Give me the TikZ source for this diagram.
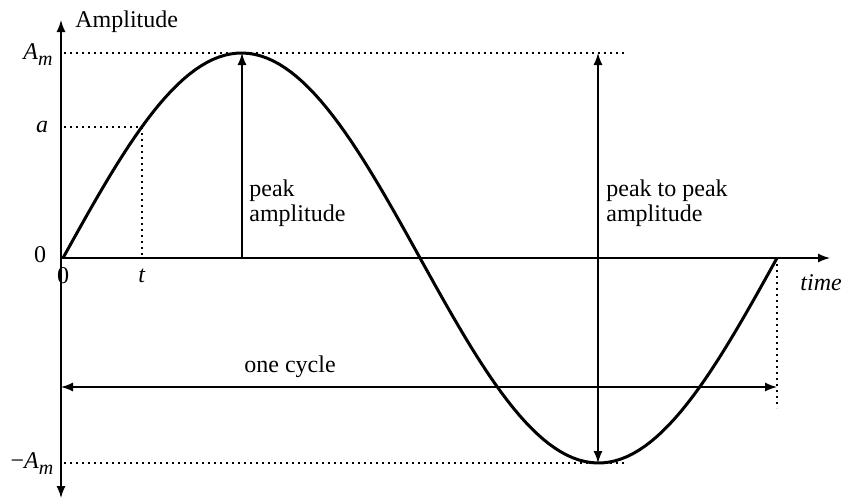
\documentclass[tikz,border=0pt]{standalone}
\usepackage{fontspec}
\setmainfont{Liberation Serif}
\usetikzlibrary{arrows.meta}
\newcommand{\ampsym}{\textit{A}\raisebox{-3pt}{\fontsize{10}{10}\selectfont\textit{m}}}
\begin{document}
\begin{tikzpicture}[x=0.5pt, y=0.5pt, >={Latex[length=6pt,width=4.5pt]},
                    every node/.style={inner sep=0pt, font=\fontsize{12}{12.5}\selectfont},
                    guide/.style={dash pattern=on 0.9pt off 2.1pt, line width=0.7pt},
                    axis/.style={line width=0.7pt},
                    wave/.style={line width=1.5pt}]
    \useasboundingbox (0,-241) rectangle (844,258);
    % axes and points of the wave
    \coordinate (O) at (61,0);
    \coordinate (ytop) at (61,238);
    \coordinate (ybot) at (61,-240);
    \coordinate (xend) at (830,0);
    \coordinate (S) at (63,0);
    \coordinate (P) at (242,205);
    \coordinate (Q) at (598,-205);
    \coordinate (E) at (777,0);
    \coordinate (ta) at (142,131);
    \coordinate (t0) at (142,0);
    \coordinate (ya) at (64,131);
    \coordinate (ypk) at (64,205);
    \coordinate (ymn) at (64,-205);
    \coordinate (pkend) at (627,205);
    \coordinate (mnend) at (627,-205);
    \coordinate (Ppk) at (598,205);
    \coordinate (P0) at (242,0);
    \coordinate (cycL) at (61,-129);
    \coordinate (cycR) at (777,-129);
    \coordinate (Edown) at (777,-150);

    \node[anchor=west] (amp) at (75,236) {Amplitude};
    \node (am) at (38,203) {\ampsym};
    \node (a) at (42,131) {\textit{a}};
    \node (zero) at (40,3) {0};
    \node (zerox) at (63,-18) {0};
    \node (t) at (142,-18) {\textit{t}};
    \node (minam) at (32,-206) {−\ampsym};
    \node[anchor=west] (time) at (800,-25) {\textit{time}};
    \node[anchor=west, align=left] (pk) at (249,55) {peak\\amplitude};
    \node[anchor=west, align=left] (pp) at (606,55) {peak to peak\\amplitude};
    \node (cyc) at (290,-109) {one cycle};

    \draw[axis, <->] (ybot) -- (ytop);
    \draw[axis, ->] (O) -- (xend);

    \draw[guide] (ypk) -- (pkend);
    \draw[guide] (ymn) -- (mnend);
    \draw[guide] (ya) -- (ta) -- (t0);
    \draw[guide] (E) -- (Edown);

    \draw[wave] plot[domain=0:360, samples=120] ({63+1.98333*\x},{205*sin(\x)});

    \draw[axis, ->] (P0) -- (P);
    \draw[axis, <->] (Q) -- (Ppk);
    \draw[axis, <->] (cycL) -- (cycR);
\end{tikzpicture}
\end{document}
